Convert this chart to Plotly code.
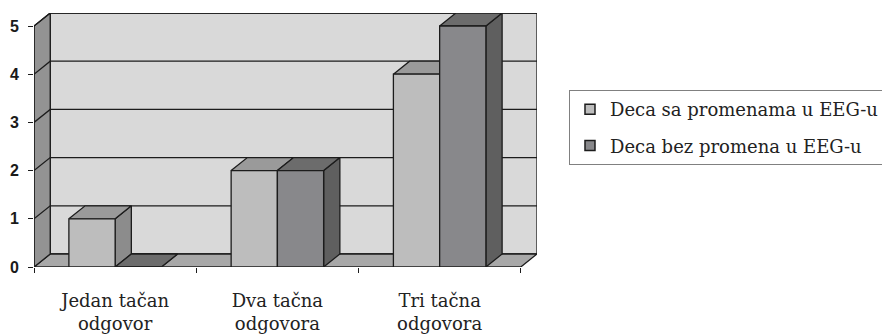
import plotly.graph_objects as go

# ---- data ----
categories = ["Jedan tačan<br>odgovor", "Dva tačna<br>odgovora", "Tri tačna<br>odgovora"]
series_names = ["Deca sa promenama u EEG-u", "Deca bez promena u EEG-u"]
series_values = [
    [1, 2, 4],   # Deca sa promenama u EEG-u
    [0, 2, 5],   # Deca bez promena u EEG-u
]
y_ticks = [0, 1, 2, 3, 4, 5]

# ---- style ----
SERIF = "DejaVu Serif"
front_colors = ["#bdbdbd", "#88888b"]
top_colors = ["#9a9a9a", "#6c6c6c"]
side_colors = ["#8c8c8c", "#5f5f5f"]
edge = "#1c1c1c"
DX, DY = 0.1, 0.27        # pseudo-3D depth offset (data units)
W = 0.285                 # bar width (category units)
YMAX = max(y_ticks)
n = len(categories)
XL, XR = -0.5, n - 0.5

fig = go.Figure()

def poly(xs, ys, fill, lw=1.3):
    fig.add_trace(go.Scatter(x=xs, y=ys, mode="lines", fill="toself", fillcolor=fill,
                             line=dict(color=edge, width=lw), hoverinfo="skip", showlegend=False))

# back wall
poly([XL + DX, XR + DX, XR + DX, XL + DX, XL + DX], [DY, DY, YMAX + DY, YMAX + DY, DY], "#d9d9d9")
# floor
poly([XL, XR, XR + DX, XL + DX, XL], [0, 0, DY, DY, 0], "#a8a8a8")
# left wall
poly([XL, XL + DX, XL + DX, XL, XL], [0, DY, YMAX + DY, YMAX, 0], "#939393")

# gridlines on left and back wall
gx, gy = [], []
for k in y_ticks[1:]:
    gx += [XL, XL + DX, XR + DX, None]
    gy += [k, k + DY, k + DY, None]
fig.add_trace(go.Scatter(x=gx, y=gy, mode="lines", line=dict(color=edge, width=1.3),
                         hoverinfo="skip", showlegend=False))

# bars
for s, vals in enumerate(series_values):
    sx, sy, tx, ty, fx, fy = [], [], [], [], [], []
    for i, v in enumerate(vals):
        x0 = i - W + s * W
        x1 = x0 + W
        sx += [x1, x1 + DX, x1 + DX, x1, x1, None]
        sy += [0, DY, v + DY, v, 0, None]
        tx += [x0, x1, x1 + DX, x0 + DX, x0, None]
        ty += [v, v, v + DY, v + DY, v, None]
        fx += [x0, x1, x1, x0, x0, None]
        fy += [0, 0, v, v, 0, None]
    for xs, ys, c in [(sx, sy, side_colors[s]), (tx, ty, top_colors[s]), (fx, fy, front_colors[s])]:
        poly(xs, ys, c)

# legend entries
for s, name in enumerate(series_names):
    fig.add_trace(go.Scatter(x=[None], y=[None], mode="markers", name=name, legendgroup=str(s),
                             marker=dict(symbol="square", size=10, color=front_colors[s],
                                         line=dict(color=edge, width=1.5))))

# front y-axis line
fig.add_trace(go.Scatter(x=[XL, XL], y=[0, YMAX], mode="lines", line=dict(color=edge, width=1.3),
                         hoverinfo="skip", showlegend=False))

fig.update_layout(
    width=882, height=335,
    margin=dict(l=34, r=345, t=13, b=68, autoexpand=False),
    paper_bgcolor="white", plot_bgcolor="white",
    showlegend=True,
    legend=dict(x=1.0636, y=0.697, xanchor="left", yanchor="top",
                bordercolor="#808080", borderwidth=1, bgcolor="white",
                font=dict(family=SERIF, size=18, color="#222"),
                tracegroupgap=10),
    xaxis=dict(range=[XL, XR + DX], tickmode="array", tickvals=list(range(n)), ticktext=categories,
               ticks="", showgrid=False, zeroline=False, showline=False, automargin=False,
               tickfont=dict(family=SERIF, size=18, color="#222"),
               ticklabelstandoff=21,
               minor=dict(tickmode="array", tickvals=[XL + k for k in range(n + 1)], ticks="outside",
                          ticklen=5, tickcolor=edge, tickwidth=1, showgrid=False),
               fixedrange=True),
    yaxis=dict(range=[0, YMAX + DY], tickmode="array", tickvals=y_ticks,
               ticktext=["<b>%d</b>" % t for t in y_ticks], ticks="outside", automargin=False,
               ticklen=5, tickcolor=edge, tickwidth=1, showgrid=False, zeroline=False, showline=False,
               tickfont=dict(family="Liberation Sans, Arial, sans-serif", size=16, color="#1a1a1a"),
               ticklabelstandoff=6, fixedrange=True),
)

fig.write_html("out.html")
